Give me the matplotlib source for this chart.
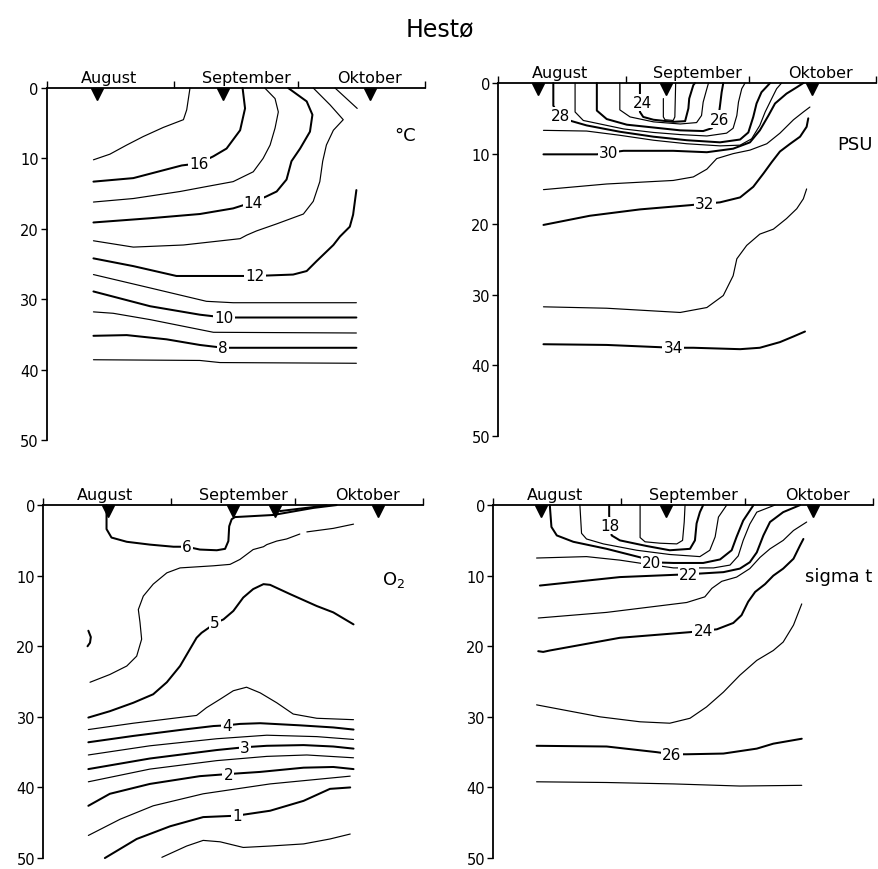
import numpy as np
import matplotlib
matplotlib.use("Agg")
import matplotlib.pyplot as plt

plt.rcParams['font.family'] = ['DejaVu Sans']

# ---------------- common axis data ----------------
MONTHS = ["August", "September", "Oktober"]
MONTH_START = [0, 31, 61, 92]          # days since 1 August
MONTH_LABEL_POS = [15, 48.5, 78.5]
DEPTH_TICKS = [0, 10, 20, 30, 40, 50]
NAN = np.nan

# ---------------- Temperature (deg C) ----------------
temp_stations = [12.1, 42.9, 78.6]
temp_17 = ([11.3, 15.3, 19.4, 23.4, 28.3, 33.2, 34.0, 34.8],
           [10.2, 9.4, 8.1, 6.9, 5.6, 4.5, 3.1, 0.0])
temp_16 = ([11.3, 21.0, 32.8, 37.0, 40.5, 43.7, 47.0, 48.2, 47.6],
           [13.3, 12.8, 11.0, 10.7, 9.7, 8.6, 6.0, 2.9, 0.0])
temp_15 = ([11.3, 21.0, 32.4, 38.8, 45.3, 50.2, 52.6, 54.3, 55.5, 56.3, 55.5, 53.0],
           [16.2, 15.7, 14.7, 14.0, 13.3, 11.9, 10.0, 8.1, 5.7, 3.4, 1.5, 0.0])
temp_14 = ([11.3, 25.1, 37.2, 45.3, 50.2, 53.4, 55.9, 58.3, 59.5, 61.6, 64.0, 64.6, 63.2, 58.7],
           [19.1, 18.5, 17.9, 17.1, 16.2, 15.4, 14.7, 13.0, 10.4, 8.6, 6.2, 3.8, 1.9, 0.0])
temp_13 = ([11.3, 21.0, 33.2, 47.0, 48.6, 51.0, 55.9, 62.4, 64.8, 66.4, 67.1, 68.0, 69.7, 72.1, 68.9, 64.8],
           [21.7, 22.6, 22.3, 21.4, 20.9, 20.3, 19.3, 17.9, 16.1, 13.3, 10.4, 8.1, 6.0, 4.5, 2.4, 0.0])
temp_12 = ([11.3, 21.0, 31.5, 50.6, 59.9, 63.2, 65.6, 69.7, 71.3, 73.7, 74.5, 75.3],
           [24.2, 25.3, 26.7, 26.7, 26.5, 26.0, 24.6, 22.3, 21.1, 19.7, 18.0, 14.5])
temp_12_top = ([70.1, 75.5], [0.0, 2.9])
temp_11 = ([11.3, 25.1, 38.8, 45.3, 75.3], [26.5, 28.4, 30.3, 30.5, 30.5])
temp_10 = ([11.3, 25.1, 37.2, 43.1, 75.3], [28.9, 31.0, 32.2, 32.6, 32.6])
temp_9 = ([11.3, 16.1, 25.1, 40.5, 75.3], [31.8, 32.0, 32.9, 34.7, 34.8])
temp_8 = ([11.3, 19.4, 29.1, 37.2, 42.9, 75.3], [35.2, 35.1, 35.7, 36.5, 36.9, 36.9])
temp_7 = ([11.3, 37.2, 42.1, 75.3], [38.6, 38.7, 39.0, 39.1])
temp_lines = [(17, temp_17), (16, temp_16), (15, temp_15), (14, temp_14), (13, temp_13),
              (12, temp_12), (13, temp_12_top), (11, temp_11), (10, temp_10), (9, temp_9),
              (8, temp_8), (7, temp_7)]
temp_labels = [(16, 37.0, 10.7), (14, 50.2, 16.2), (12, 50.6, 26.7), (10, 43.1, 32.6), (8, 42.9, 36.9)]

# ---------------- Salinity (PSU) ----------------
sal_stations = [9.7, 40.8, 76.3]
sal_23 = ([40.2, 40.2, 40.6, 42.6, 43.0, 43.2], [2.2, 4.8, 5.2, 5.3, 4.8, 0.0])
sal_24 = ([34.5, 34.5, 35.3, 37.8, 42.6, 45.5, 46.3, 46.5, 47.5, 47.9],
          [0.0, 4.1, 4.8, 5.2, 5.5, 5.4, 3.6, 2.2, 0.3, 0.0])
sal_25 = ([29.6, 29.6, 32.1, 37.8, 44.3, 48.3, 49.5, 49.9, 50.8, 51.2],
          [0.0, 3.8, 4.8, 5.5, 5.8, 5.6, 4.6, 2.7, 0.8, 0.0])
sal_26 = ([24.0, 24.0, 26.4, 31.3, 37.8, 44.3, 49.9, 52.0, 53.6, 54.0, 54.4, 54.8],
          [0.0, 3.9, 5.1, 5.9, 6.3, 6.7, 6.8, 6.4, 5.0, 3.2, 1.3, 0.0])
sal_27 = ([18.7, 18.7, 20.7, 30.5, 37.8, 44.3, 50.8, 55.6, 57.2, 58.1, 58.5, 59.3, 60.1],
          [0.0, 4.1, 5.3, 6.5, 7.0, 7.3, 7.5, 7.1, 6.4, 4.6, 2.7, 0.8, 0.0])
sal_28 = ([13.4, 13.4, 15.0, 17.9, 21.5, 29.6, 37.8, 45.9, 54.0, 58.9, 60.9, 62.1, 62.9, 64.1, 66.2],
          [0.0, 3.2, 4.8, 5.4, 6.0, 6.9, 7.6, 8.1, 8.4, 8.0, 7.0, 4.8, 2.9, 1.3, 0.0])
sal_29 = ([11.0, 21.5, 29.6, 37.8, 45.9, 54.0, 58.9, 61.7, 63.7, 65.0, 66.6, 67.8, 69.0],
          [6.7, 6.8, 7.4, 8.1, 8.6, 8.9, 8.8, 7.9, 6.0, 4.1, 2.2, 0.8, 0.0])
sal_30 = ([11.0, 24.0, 30.5, 42.6, 50.8, 57.2, 61.3, 63.7, 65.8, 67.4, 70.2, 72.7, 74.3],
          [10.1, 10.1, 9.6, 9.6, 9.8, 9.3, 8.4, 6.7, 4.6, 2.9, 1.5, 0.6, 0.0])
sal_31 = ([11.0, 26.4, 42.6, 47.5, 50.8, 53.2, 57.2, 61.3, 65.4, 68.6, 71.9, 74.3, 75.9],
          [15.1, 14.3, 13.8, 13.3, 12.2, 10.7, 10.0, 9.5, 8.6, 7.1, 5.2, 4.1, 3.4])
sal_32 = ([11.0, 22.3, 34.5, 46.7, 54.0, 58.9, 62.1, 64.6, 66.6, 68.6, 71.1, 73.5, 75.1, 75.5],
          [20.1, 18.8, 17.9, 17.3, 16.9, 16.2, 14.7, 12.8, 11.2, 9.7, 8.6, 7.6, 6.2, 5.0])
sal_33 = ([11.0, 26.4, 44.3, 50.8, 54.8, 57.2, 58.1, 60.5, 63.7, 67.0, 70.2, 72.7, 74.3, 75.1],
          [31.7, 31.9, 32.5, 31.8, 30.1, 27.3, 24.9, 23.0, 21.4, 20.7, 19.2, 17.8, 16.4, 15.0])
sal_34 = ([11.0, 26.4, 42.6, 47.5, 58.9, 63.7, 68.6, 71.9, 74.7],
          [37.0, 37.1, 37.5, 37.5, 37.7, 37.5, 36.7, 35.9, 35.2])
sal_lines = [(23, sal_23), (24, sal_24), (25, sal_25), (26, sal_26), (27, sal_27), (28, sal_28),
             (29, sal_29), (30, sal_30), (31, sal_31), (32, sal_32), (33, sal_33), (34, sal_34)]
sal_labels = [(24, 35.1, 2.7), (26, 53.8, 5.1), (28, 15.2, 4.6), (30, 26.8, 9.9),
              (32, 50.3, 17.1), (34, 42.6, 37.5)]

# ---------------- Oxygen (O2) ----------------
oxy_stations = [15.7, 46.0, 56.1, 81.1]
oxy_6 = ([15.3, 15.3, 16.5, 20.2, 25.8, 31.5, 34.7, 37.9, 42.0, 44.0, 44.8, 45.0, 45.6, 46.4, 55.7, 65.4, 71.0],
         [0.0, 3.4, 4.6, 5.2, 5.6, 5.9, 5.9, 6.3, 6.4, 6.2, 5.1, 3.0, 2.0, 1.7, 1.4, 0.4, 0.0])
oxy_6_wedge = ([57.3, 68.6], [0.85, 0.05])
oxy_55 = ([11.3, 16.1, 20.2, 22.6, 23.8, 23.4, 23.0, 24.2, 26.6, 29.9, 33.1, 41.2, 45.2, 47.6, 50.8,
           53.3, 54.1, 56.5, 58.9, 62.1, NAN, 63.8, 70.2, 75.1],
          [25.1, 24.0, 22.8, 21.4, 19.0, 16.6, 14.8, 12.9, 11.2, 9.6, 8.9, 8.6, 8.4, 7.7, 6.3,
           5.9, 5.6, 5.1, 4.8, 4.1, NAN, 3.8, 3.3, 2.7])
oxy_5_frag = ([10.9, 11.5, 11.3, 10.7], [17.8, 18.7, 19.5, 20.0])
oxy_5 = ([10.9, 16.1, 21.8, 26.6, 29.9, 33.1, 35.5, 37.1, 38.3, 40.0, 41.6, 43.6, 46.0, 48.4, 50.8,
          53.3, 54.9, 59.7, 66.2, 70.2, 75.1],
         [30.1, 29.2, 28.0, 26.8, 25.1, 22.8, 20.4, 18.8, 18.1, 17.4, 16.7, 16.2, 15.0, 13.1, 11.9,
          11.2, 11.3, 12.6, 14.3, 15.2, 16.9])
oxy_45 = ([10.9, 21.8, 31.5, 37.1, 39.5, 42.8, 46.0, 49.2, 52.5, 56.5, 60.5, 66.2, 75.1],
          [31.8, 30.9, 30.2, 29.8, 28.7, 27.5, 26.3, 25.8, 26.6, 28.0, 29.6, 30.2, 30.4])
oxy_4 = ([10.9, 21.8, 33.9, 41.2, 44.4, 47.6, 52.5, 62.1, 70.2, 75.1],
         [33.6, 32.7, 31.8, 31.3, 31.2, 31.0, 30.9, 31.2, 31.5, 31.8])
oxy_35 = ([10.9, 25.8, 42.0, 54.1, 66.2, 75.1], [35.4, 34.1, 33.1, 32.6, 32.8, 33.2])
oxy_3 = ([10.9, 25.8, 42.0, 48.8, 54.1, 63.0, 70.2, 75.1], [37.4, 35.9, 34.7, 34.3, 34.1, 34.0, 34.2, 34.5])
oxy_25 = ([10.9, 25.8, 42.0, 54.1, 63.8, 75.1], [39.2, 37.4, 36.2, 35.6, 35.4, 35.8])
oxy_2 = ([10.9, 16.1, 25.8, 37.9, 44.8, 52.5, 63.0, 70.2, 75.1],
         [42.6, 40.9, 39.5, 38.4, 38.1, 37.8, 37.2, 37.1, 37.4])
oxy_15 = ([10.9, 18.6, 26.6, 38.7, 54.9, 74.3], [46.8, 44.5, 42.6, 40.9, 39.5, 38.4])
oxy_1 = ([14.9, 22.6, 30.7, 38.7, 46.8, 54.9, 63.0, 69.4, 74.3],
         [50.0, 47.3, 45.5, 44.2, 44.0, 43.3, 41.9, 40.2, 40.0])
oxy_05 = ([28.7, 34.7, 38.7, 42.8, 48.4, 54.9, 63.0, 69.4, 74.3],
          [49.9, 48.3, 47.5, 47.7, 48.5, 48.3, 48.0, 47.3, 46.6])
oxy_lines = [(6, oxy_6), (6, oxy_6_wedge), (5.5, oxy_55), (5, oxy_5_frag), (5, oxy_5), (4.5, oxy_45),
             (4, oxy_4), (3.5, oxy_35), (3, oxy_3), (2.5, oxy_25), (2, oxy_2), (1.5, oxy_15),
             (1, oxy_1), (0.5, oxy_05)]
oxy_labels = [(6, 34.7, 5.9), (5, 41.6, 16.7), (4, 44.4, 31.2), (3, 48.8, 34.3), (2, 44.8, 38.1), (1, 46.8, 44.0)]

# ---------------- Density (sigma t) ----------------
sig_stations = [11.5, 42.0, 77.6]
sig_17 = ([35.6, 35.6, 36.8, 40.4, 44.5, 45.9, 46.3, 46.5], [0.0, 4.6, 5.2, 5.4, 5.5, 5.0, 2.4, 0.0])
sig_18 = ([28.1, 28.1, 28.7, 30.7, 37.2, 42.8, 47.7, 48.9, 49.3, 50.1, 50.9],
          [0.0, 1.5, 4.3, 5.0, 5.8, 6.4, 6.2, 5.0, 2.6, 1.0, 0.0])
sig_19 = ([21.0, 21.4, 22.6, 26.7, 34.8, 42.8, 50.1, 52.5, 53.8, 54.6, 56.6],
          [0.0, 4.0, 4.8, 5.5, 6.4, 7.0, 7.3, 6.4, 4.5, 1.7, 0.0])
sig_20 = ([13.7, 14.1, 15.4, 19.4, 27.5, 35.6, 38.4, 43.7, 50.9, 55.0, 57.8, 59.0, 60.6, 63.1],
          [0.0, 3.1, 4.3, 5.2, 6.2, 7.4, 8.1, 8.2, 8.2, 7.7, 6.4, 4.5, 2.2, 0.0])
sig_21 = ([10.5, 22.6, 30.7, 36.4, 43.7, 53.4, 57.4, 59.4, 60.6, 62.2, 63.9, 68.3],
          [7.5, 7.3, 7.8, 8.3, 8.9, 8.9, 8.5, 7.2, 5.0, 2.7, 1.0, 0.0])
sig_22 = ([11.3, 30.7, 47.3, 55.8, 59.8, 62.2, 63.9, 65.5, 67.1, 70.3, 74.4],
          [11.4, 10.2, 9.8, 9.5, 9.0, 8.1, 6.7, 4.3, 2.4, 1.0, 0.0])
sig_23 = ([10.9, 27.5, 46.9, 51.3, 53.0, 55.4, 59.0, 62.2, 64.7, 67.1, 70.3, 72.8, 76.0],
          [16.0, 15.2, 13.8, 13.0, 11.8, 10.8, 10.2, 9.0, 7.4, 6.2, 5.0, 3.6, 2.4])
sig_24 = ([10.9, 12.1, 13.7, 30.7, 47.7, 54.2, 58.2, 60.2, 61.8, 63.5, 65.9, 67.9, 70.3, 72.8, 74.4, 75.2],
          [20.7, 20.8, 20.6, 18.8, 18.0, 17.6, 16.7, 15.6, 13.7, 12.3, 11.2, 10.0, 9.0, 7.6, 5.7, 4.8])
sig_25 = ([10.5, 25.9, 35.6, 42.8, 47.7, 51.7, 55.8, 59.8, 63.9, 67.9, 70.3, 72.8, 74.8],
          [28.3, 30.0, 30.7, 30.9, 30.2, 28.6, 26.5, 24.1, 22.0, 20.6, 19.4, 17.0, 14.0])
sig_26 = ([10.5, 27.5, 39.6, 43.3, 46.9, 55.8, 63.9, 67.9, 74.8],
          [34.1, 34.2, 35.0, 35.3, 35.3, 35.2, 34.5, 33.8, 33.1])
sig_27 = ([10.5, 27.5, 43.7, 59.8, 74.8], [39.2, 39.3, 39.5, 39.8, 39.7])
sig_lines = [(17, sig_17), (18, sig_18), (19, sig_19), (20, sig_20), (21, sig_21), (22, sig_22),
             (23, sig_23), (24, sig_24), (25, sig_25), (26, sig_26), (27, sig_27)]
sig_labels = [(18, 28.3, 2.9), (20, 38.4, 8.2), (22, 47.3, 9.9), (24, 50.9, 17.8), (26, 43.3, 35.3)]

# ---------------- figure ----------------
fig = plt.figure(figsize=(8.79, 8.70), dpi=100)
fig.text(0.5, 0.966, "Hestø", ha='center', va='center', fontsize=17)

panels = [
    ([0.0535, 0.4931, 0.4300, 0.4046], temp_lines, temp_labels, temp_stations,
     "°C", (87.1, 6.7), lambda v: v % 2 == 0),
    ([0.5669, 0.4977, 0.4297, 0.4057], sal_lines, sal_labels, sal_stations,
     "PSU", (86.9, 8.6), lambda v: v % 2 == 0),
    ([0.0493, 0.0126, 0.4323, 0.4057], oxy_lines, oxy_labels, oxy_stations,
     "O$_2$", (84.7, 10.5), lambda v: float(v).is_integer()),
    ([0.5612, 0.0126, 0.4316, 0.4057], sig_lines, sig_labels, sig_stations,
     "sigma t", (83.7, 10.0), lambda v: v % 2 == 0),
]

for rect, lines, labels, stations, unit, upos, is_thick in panels:
    ax = fig.add_axes(rect)
    ax.set_xlim(MONTH_START[0], MONTH_START[-1])
    ax.set_ylim(50, 0)
    for s in ['right', 'bottom']:
        ax.spines[s].set_visible(False)
    for s in ['left', 'top']:
        ax.spines[s].set_linewidth(1.3)
    ax.set_xticks(MONTH_START)
    ax.set_xticklabels([])
    ax.set_xticks(MONTH_LABEL_POS, minor=True)
    ax.set_xticklabels(MONTHS, minor=True, fontsize=11.5)
    ax.tick_params(axis='x', which='both', top=True, bottom=False,
                   labeltop=True, labelbottom=False)
    ax.tick_params(axis='x', which='major', direction='out', length=5, width=1)
    ax.tick_params(axis='x', which='minor', length=0, pad=2.5)
    ax.set_yticks(DEPTH_TICKS)
    ax.tick_params(axis='y', direction='out', length=4, width=1, labelsize=10.5, pad=2)

    for val, (days, depths) in lines:
        lw = 1.45 if is_thick(val) else 0.85
        ax.plot(days, depths, color='black', lw=lw, clip_on=False,
                solid_joinstyle='round', solid_capstyle='round', zorder=2)
    for val, d, z in labels:
        txt = f"{val:g}"
        ax.text(d, z, txt, ha='center', va='center', fontsize=11, zorder=4,
                bbox=dict(facecolor='white', edgecolor='none', pad=0.8))
    ax.plot(stations, [0.85] * len(stations), 'v', color='black', ms=8.5,
            clip_on=False, zorder=5)
    ax.text(upos[0], upos[1], unit, ha='center', va='center', fontsize=13)

fig.savefig("out.png", dpi=100)
